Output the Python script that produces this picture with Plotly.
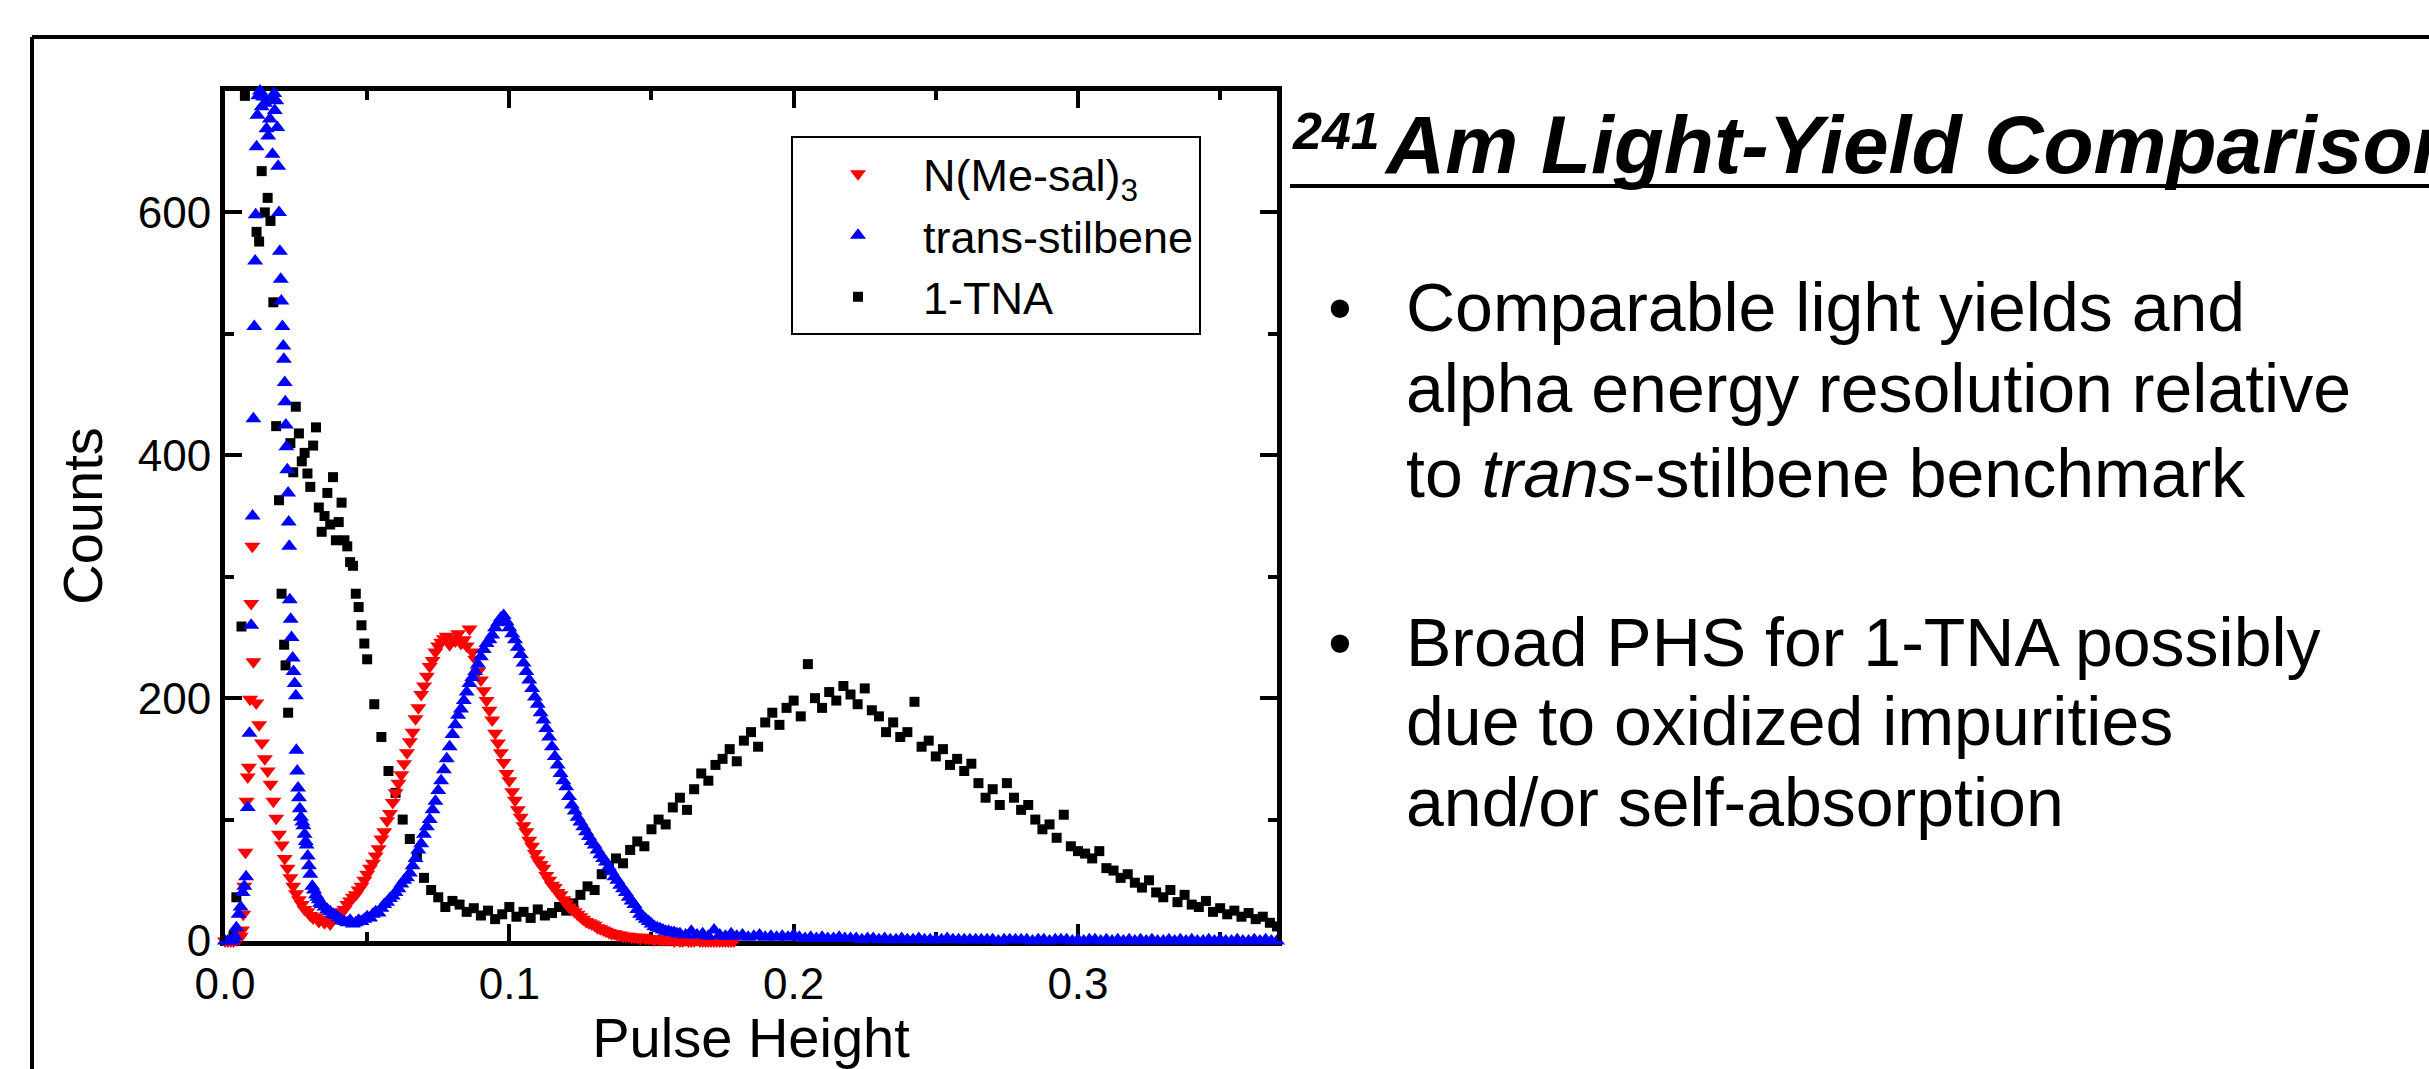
import plotly.graph_objects as go

# ---------------- data ----------------
# N(Me-sal)3 : irregular points in the steep low-energy spike, then 0.001 bins from 0.010
red_spike_ph = [0.000, 0.001, 0.002, 0.003, 0.004, 0.005, 0.0055, 0.006, 0.0064, 0.0068,
                0.0072, 0.0076, 0.0080, 0.0084, 0.0088, 0.0092, 0.0096]
red_spike_counts = [0, 0, 0, 0, 1, 2, 4, 9, 22, 45, 73, 115, 135, 143, 199, 278, 325]
red_main_start, red_main_step = 0.010, 0.001
red_main_counts = [
    230, 196, 178, 163, 150, 140, 129, 115, 101, 88,
    79, 68, 60, 52, 45, 39, 34, 30, 26, 24,
    21, 19, 20, 16, 18, 15, 17, 14, 18, 19,
    21, 24, 26, 30, 33, 36, 38, 42, 45, 50,
    55, 60, 64, 70, 76, 84, 90, 99, 105, 114,
    122, 130, 137, 146, 155, 164, 172, 183, 192, 203,
    210, 218, 226, 231, 238, 243, 246, 249, 251, 244,
    249, 247, 253, 245, 248, 243, 257, 238, 232, 222,
    215, 206, 198, 190, 182, 171, 163, 155, 147, 138,
    132, 123, 116, 108, 102, 95, 90, 83, 78, 72,
    67, 63, 60, 54, 50, 46, 44, 40, 38, 34,
    31, 28, 26, 24, 22, 20, 18, 16, 15, 14,
    13, 11, 10, 9, 8, 7, 6, 6, 5, 5,
    4, 4, 4, 3, 3, 3, 2, 3, 2, 2,
    2, 1, 2, 1, 1, 1, 1, 1, 0, 1,
    0, 0, 1, 0, 0, 0, 1, 0, 0, 0,
    0, 0, 0, 0, 0, 0, 0, 0, 0, 0,
]

# trans-stilbene
blue_spike_ph = [0.000, 0.001, 0.002, 0.003, 0.0035, 0.004, 0.0048, 0.0055, 0.0062, 0.0068,
                 0.0074, 0.0080, 0.0086, 0.0092, 0.0097, 0.0100, 0.0103, 0.0106, 0.0108, 0.0111,
                 0.0114, 0.0117, 0.0120, 0.0123, 0.0126, 0.0129, 0.0132, 0.0135, 0.0138, 0.0141,
                 0.0144, 0.0146, 0.0149, 0.0152, 0.0155, 0.0158, 0.0161, 0.0164, 0.0167, 0.0170,
                 0.0173, 0.0175, 0.0178, 0.0180, 0.0184, 0.0187, 0.0190, 0.0193, 0.0196, 0.0198,
                 0.0202, 0.0205, 0.0207, 0.0210, 0.0212, 0.0214, 0.0216, 0.0219, 0.0222, 0.0224,
                 0.0226, 0.0228, 0.0231, 0.0234, 0.0238, 0.0241, 0.0245, 0.0249, 0.0251, 0.0254,
                 0.0257, 0.0260, 0.0263, 0.0267, 0.0272, 0.0276, 0.0280, 0.0284, 0.0287, 0.0291,
                 0.0295, 0.0300, 0.0307, 0.0313, 0.0320, 0.0325, 0.0330, 0.0335, 0.0340, 0.0350,
                 0.0360, 0.0370, 0.0380, 0.0390]
blue_spike_counts = [0, 0, 0, 1, 4, 11, 22, 28, 40, 45,
                     53, 110, 171, 260, 350, 430, 506, 560, 598, 654,
                     680, 696, 715, 700, 725, 687, 710, 695, 730, 690,
                     712, 669, 705, 663, 720, 677, 702, 694, 648, 708,
                     698, 684, 715, 692, 670, 638, 600, 568, 545, 527,
                     506, 490, 479, 460, 444, 425, 407, 388, 369, 345,
                     325, 281, 265, 250, 233, 222, 212, 202, 157, 140,
                     126, 118, 109, 102, 98, 95, 88, 82, 79, 70,
                     62, 55, 45, 42, 38, 36, 34, 31, 30, 28,
                     26, 24, 22, 21]
blue_main_start, blue_main_step = 0.040, 0.001
blue_main_counts = [
    19, 17, 16, 15, 17, 14, 15, 17, 16, 18,
    20, 19, 22, 24, 23, 27, 30, 32, 35, 37,
    40, 43, 47, 50, 52, 56, 62, 68, 75, 80,
    88, 94, 100, 108, 115, 124, 132, 141, 150, 160,
    170, 178, 186, 191, 198, 205, 212, 217, 222, 228,
    234, 240, 245, 248, 252, 258, 262, 266, 268, 263,
    258, 253, 248, 242, 236, 229, 222, 215, 208, 201,
    195, 188, 182, 175, 168, 160, 152, 145, 138, 132,
    127, 119, 112, 107, 102, 98, 94, 90, 86, 82,
    79, 75, 71, 68, 65, 61, 57, 53, 50, 46,
    43, 40, 36, 33, 30, 26, 22, 20, 18, 16,
    14, 12, 11, 10, 9, 8, 8, 7, 7, 6,
]
blue_tail_start, blue_tail_step = 0.160, 0.002
blue_tail_counts = [
    6, 5, 8, 5, 6, 4, 9, 5, 4, 6,
    4, 5, 3, 4, 5, 3, 4, 3, 4, 3,
    5, 3, 2, 3, 2, 3, 2, 2, 3, 2,
    2, 2, 1, 2, 2, 1, 2, 1, 1, 2,
    1, 1, 2, 1, 1, 1, 1, 2, 1, 1,
    1, 1, 1, 1, 1, 1, 0, 1, 1, 1,
    1, 1, 0, 1, 1, 0, 1, 1, 1, 0,
    1, 0, 1, 1, 0, 1, 0, 1, 0, 1,
    0, 1, 0, 1, 0, 0, 1, 0, 1, 0,
    1, 0, 0, 1, 0, 1, 0, 0, 1, 0,
    0, 1, 0, 1, 0, 0,
]

# 1-TNA
black_spike_ph = [0.000, 0.002, 0.003, 0.004, 0.0058, 0.0070, 0.0080, 0.0090, 0.0100, 0.0111,
                  0.0120, 0.0129, 0.0140, 0.0150, 0.0160, 0.0170, 0.0180, 0.0190, 0.0199, 0.0208,
                  0.0213, 0.0222, 0.0230, 0.0240, 0.0249, 0.0260, 0.0270, 0.0280, 0.0290, 0.0300,
                  0.0310, 0.0320, 0.0330, 0.0340, 0.0350, 0.0360, 0.0370, 0.0380, 0.0390, 0.0400,
                  0.0410, 0.0420, 0.0430, 0.0440, 0.0450, 0.0460, 0.0470, 0.0480, 0.0490]
black_spike_counts = [0, 0, 4, 36, 259, 696, 735, 752, 718, 584,
                      576, 634, 600, 612, 593, 526, 424, 363, 286, 244,
                      227, 188, 410, 386, 440, 418, 395, 402, 385, 374,
                      408, 423, 357, 337, 350, 369, 343, 382, 330, 345,
                      361, 330, 325, 312, 309, 286, 275, 260, 245]
black_main_start, black_main_step = 0.050, 0.0025
black_main_counts = [
    232, 195, 168, 140, 122, 100, 84, 70,
    52, 42, 36, 28, 33, 30, 24, 27,
    21, 25, 18, 22, 28, 20, 24, 19,
    26, 21, 23, 28, 25, 31, 38, 45,
    42, 55, 60, 68, 64, 75, 82, 78,
    92, 100, 96, 110, 118, 108, 125, 138,
    132, 145, 150, 158, 148, 165, 172, 160,
    180, 188, 178, 192, 198, 185, 228, 200,
    192, 205, 198, 210, 203, 195, 208, 190,
    185, 172, 180, 168, 172, 197, 160, 165,
    152, 158, 145, 150, 140, 146, 130, 118,
    125, 112, 130, 118, 108, 112, 100, 92,
    96, 85, 104, 78, 74, 72, 68, 74,
    60, 58, 52, 55, 48, 44, 50, 40,
    36, 42, 32, 38, 30, 28, 33, 24,
    27, 22, 25, 20, 23, 18, 20, 15,
    12,
]

series_names = ["N(Me-sal)<sub>3</sub>", "trans-stilbene", "1-TNA"]
x_ticks = [0.0, 0.1, 0.2, 0.3]
y_ticks = [0, 200, 400, 600]
x_range = [0, 0.37]
y_range = [0, 700]

title_sup = "241"
title_main = "Am Light-Yield Comparison"
bullet1 = ["Comparable light yields and", "alpha energy resolution relative",
           "to <i>trans</i>-stilbene benchmark"]
bullet2 = ["Broad PHS for 1-TNA possibly", "due to oxidized impurities",
           "and/or self-absorption"]


def bins(start, step, n):
    return [round(start + i * step, 5) for i in range(n)]


red_x = red_spike_ph + bins(red_main_start, red_main_step, len(red_main_counts))
red_y = red_spike_counts + red_main_counts
blue_x = (blue_spike_ph + bins(blue_main_start, blue_main_step, len(blue_main_counts))
          + bins(blue_tail_start, blue_tail_step, len(blue_tail_counts)))
blue_y = blue_spike_counts + blue_main_counts + blue_tail_counts
black_x = black_spike_ph + bins(black_main_start, black_main_step, len(black_main_counts))
black_y = black_spike_counts + black_main_counts

# ---------------- figure ----------------
W, H = 2429, 1069
L, R, T, B = 225, 1277, 91, 941  # plot area in px
FONT = "Arial, Liberation Sans, sans-serif"


def px(xp):
    return (xp - L) / (R - L)


def py(yp):
    return (B - yp) / (B - T)


fig = go.Figure()
fig.add_trace(go.Scatter(x=black_x, y=black_y, mode="markers", name=series_names[2],
                         legendrank=3,
                         marker=dict(symbol="square", size=10, color="black", line=dict(width=0))))
fig.add_trace(go.Scatter(x=red_x, y=red_y, mode="markers", name=series_names[0],
                         legendrank=1, cliponaxis=False,
                         marker=dict(symbol="triangle-down", size=14, color="#ff0000", line=dict(width=0))))
fig.add_trace(go.Scatter(x=blue_x, y=blue_y, mode="markers", name=series_names[1],
                         legendrank=2, cliponaxis=False,
                         marker=dict(symbol="triangle-up", size=14, color="#0000ff", line=dict(width=0))))

axis_common = dict(
    showline=True, linewidth=5, linecolor="black", mirror="ticks",
    ticks="inside", ticklen=17, tickwidth=4, tickcolor="black",
    showgrid=False, zeroline=False, automargin=False,
    tickfont=dict(family=FONT, size=44, color="black"),
)

fig.update_xaxes(range=x_range, tickvals=x_ticks, tickformat=".1f",
                 minor=dict(dtick=0.05, tick0=0, ticks="inside", ticklen=9, tickwidth=4, tickcolor="black"),
                 title=dict(text="Pulse Height", font=dict(family=FONT, size=56, color="black"), standoff=38),
                 layer="below traces",
                 **axis_common)
fig.update_yaxes(range=y_range, tickvals=y_ticks,
                 minor=dict(dtick=100, tick0=0, ticks="inside", ticklen=9, tickwidth=4, tickcolor="black"),
                 title=dict(text="Counts", font=dict(family=FONT, size=56, color="black"), standoff=19),
                 **axis_common)

annotations = [
    dict(text="<b><i>%s</i></b>" % title_sup, x=px(1290), y=py(131), xanchor="left", yanchor="middle",
         font=dict(family=FONT, size=52, color="black")),
    dict(text="<b><i>%s</i></b>" % title_main, x=px(1382), y=py(144), xanchor="left", yanchor="middle",
         font=dict(family=FONT, size=82, color="black")),
]
line_y = [307, 388, 473, 642, 721, 802]
for i, txt in enumerate(bullet1 + bullet2):
    annotations.append(dict(text=txt, x=px(1404), y=py(line_y[i]), xanchor="left", yanchor="middle",
                            font=dict(family=FONT, size=68, color="black")))
for yb in (line_y[0], line_y[3]):
    annotations.append(dict(text="\u2022", x=px(1340), y=py(yb), xanchor="center", yanchor="middle",
                            font=dict(family=FONT, size=68, color="black")))
for a in annotations:
    a.update(xref="paper", yref="paper", showarrow=False)

shapes = [
    # outer frame (top and left edges)
    dict(type="line", xref="paper", yref="paper", x0=px(32), x1=px(W + 20), y0=py(37), y1=py(37),
         line=dict(color="black", width=4)),
    dict(type="line", xref="paper", yref="paper", x0=px(32), x1=px(32), y0=py(37), y1=py(H + 20),
         line=dict(color="black", width=4)),
    # title underline
    dict(type="line", xref="paper", yref="paper", x0=px(1290), x1=px(W + 20), y0=py(186), y1=py(186),
         line=dict(color="black", width=4)),
]

fig.update_layout(
    width=W, height=H, autosize=False,
    margin=dict(l=L, r=W - R, t=T, b=H - B, pad=0, autoexpand=False),
    paper_bgcolor="white", plot_bgcolor="white",
    font=dict(family=FONT, color="black"),
    showlegend=True,
    legend=dict(x=px(791), y=py(136), xanchor="left", yanchor="top",
                bgcolor="white", bordercolor="black", borderwidth=2,
                font=dict(family=FONT, size=45, color="black"),
                itemwidth=120, tracegroupgap=0),
    annotations=annotations,
    shapes=shapes,
)

fig.write_html("out.html", include_plotlyjs=True, config={"displayModeBar": False},
               post_script="document.body.style.margin='0px';document.body.style.overflow='hidden';")
